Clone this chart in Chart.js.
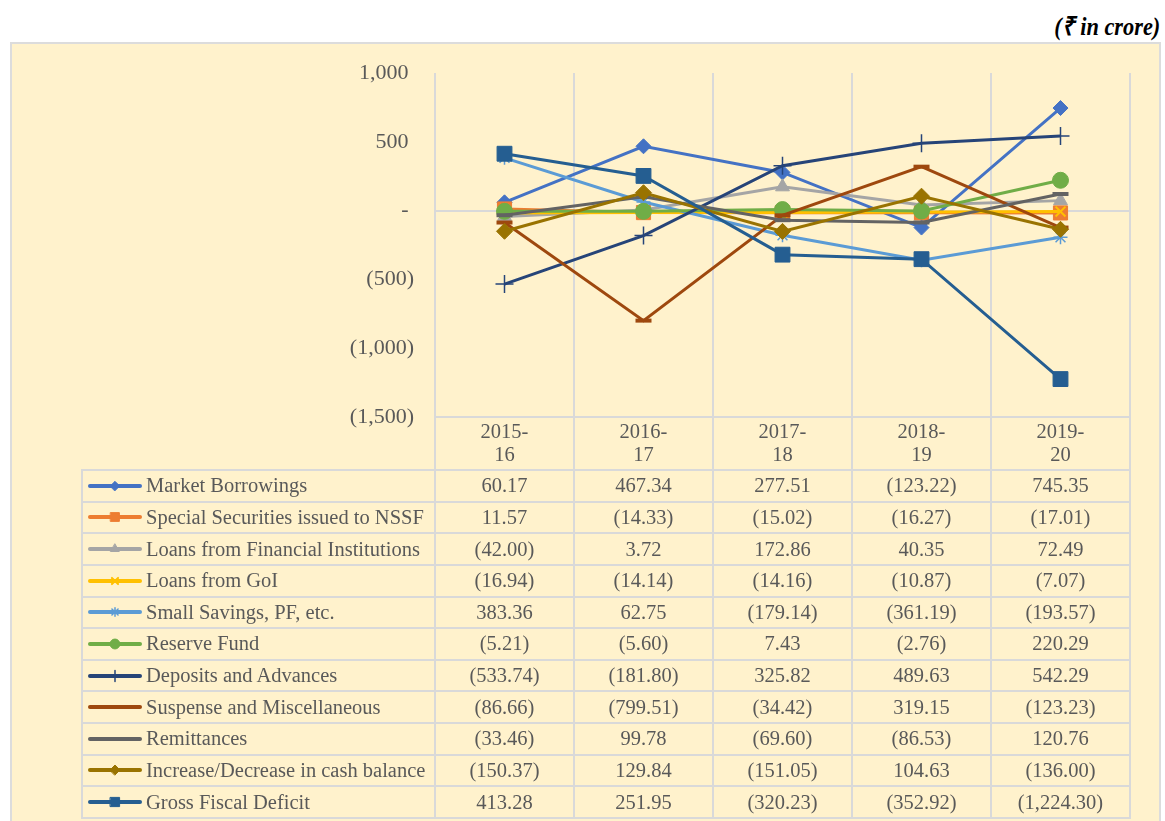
<!DOCTYPE html>
<html>
<head>
<meta charset="utf-8">
<script src="https://cdn.jsdelivr.net/npm/chart.js@4.4.1/dist/chart.umd.min.js"></script>
<style>
  body { margin: 0; width: 1165px; height: 821px; overflow: hidden; position: relative; background: #fff; font-family: "Liberation Serif", "Times New Roman", serif; }
  #unit { position: absolute; right: 5px; top: 7px; font-size: 26px; font-weight: bold; font-style: italic; color: #000; transform: scaleX(0.86); transform-origin: right center; }
  #box { position: absolute; left: 10px; top: 42px; width: 1147px; height: 800px; border: 2px solid #dcdcdc; background: #fff2cc; }
  #chart { position: absolute; left: 0; top: 0; z-index: 2; }
  #tbl { position: absolute; z-index: 1; display: grid; background: #d9d9d9; padding: 2px; gap: 2px; }
  #tbl div { background: #fff2cc; color: #595959; font-size: 20.5px; display: flex; align-items: center; justify-content: center; white-space: nowrap; }
  #tbl div.name { justify-content: flex-start; padding-left: 4px; }
  #tbl canvas { margin-right: 3px; }
</style>
</head>
<body>
<div id="box"></div>
<div id="unit">(₹ in crore)</div>
<canvas id="chart" width="1165" height="470"></canvas>
<div id="tbl"></div>
<script>
const years = [["2015-", "16"], ["2016-", "17"], ["2017-", "18"], ["2018-", "19"], ["2019-", "20"]];
const yTicks = [1000, 500, 0, -500, -1000, -1500];

const seriesNames = [
  "Market Borrowings",
  "Special Securities issued to NSSF",
  "Loans from Financial Institutions",
  "Loans from GoI",
  "Small Savings, PF, etc.",
  "Reserve Fund",
  "Deposits and Advances",
  "Suspense and Miscellaneous",
  "Remittances",
  "Increase/Decrease in cash balance",
  "Gross Fiscal Deficit",
];

const marketBorrowings = [60.17, 467.34, 277.51, -123.22, 745.35];
const specialSecurities = [11.57, -14.33, -15.02, -16.27, -17.01];
const loansFinancial = [-42.00, 3.72, 172.86, 40.35, 72.49];
const loansGoI = [-16.94, -14.14, -14.16, -10.87, -7.07];
const smallSavings = [383.36, 62.75, -179.14, -361.19, -193.57];
const reserveFund = [-5.21, -5.60, 7.43, -2.76, 220.29];
const depositsAdvances = [-533.74, -181.80, 325.82, 489.63, 542.29];
const suspenseMisc = [-86.66, -799.51, -34.42, 319.15, -123.23];
const remittances = [-33.46, 99.78, -69.60, -86.53, 120.76];
const cashBalance = [-150.37, 129.84, -151.05, 104.63, -136.00];
const grossFiscalDeficit = [413.28, 251.95, -320.23, -352.92, -1224.30];

const seriesValues = [marketBorrowings, specialSecurities, loansFinancial, loansGoI, smallSavings,
  reserveFund, depositsAdvances, suspenseMisc, remittances, cashBalance, grossFiscalDeficit];

const colors = ["#4472c4", "#ed7d31", "#a5a5a5", "#ffc000", "#5b9bd5", "#70ad47",
  "#264478", "#9e480e", "#636363", "#997300", "#255e91"];
const markers = ["rectRot", "rect", "triangle", "crossRot", "star", "circle",
  "cross", "line", "line", "rectRot", "rect"];
const markerSize = [7.5, 10, 8, 7, 7, 8, 9, 8, 8, 8, 10.5];
const markerBorder = [1, 1, 1, 2, 1.5, 1, 1.5, 4, 4, 1, 1];

function acct(v) {
  if (v === 0) return "- ";
  const s = Math.abs(v).toLocaleString("en-US", { minimumFractionDigits: 0 });
  return v < 0 ? "(" + s + ")" : s + " ";
}
function acct2(v) {
  const s = Math.abs(v).toLocaleString("en-US", { minimumFractionDigits: 2, maximumFractionDigits: 2 });
  return v < 0 ? "(" + s + ")" : s;
}

const datasets = seriesNames.map((name, i) => ({
  label: name,
  data: seriesValues[i],
  borderColor: colors[i],
  backgroundColor: colors[i],
  borderWidth: 3,
  pointStyle: markers[i],
  pointRadius: markerSize[i],
  pointBorderWidth: markerBorder[i],
  pointBorderColor: colors[i],
  pointBackgroundColor: colors[i],
  tension: 0,
  order: seriesNames.length - i,
}));

const gridColor = "#d9d9d9";
const txtColor = "#595959";

// vertical separators in the category label band, under the plot
const labelBandLines = {
  id: "labelBandLines",
  afterDraw(chart) {
    const xs = chart.scales.x;
    const ctx = chart.ctx;
    const w = (xs.right - xs.left) / years.length;
    ctx.save();
    ctx.strokeStyle = gridColor;
    ctx.lineWidth = 2;
    for (let i = 0; i <= years.length; i++) {
      const x = Math.round(xs.left + i * w);
      ctx.beginPath();
      ctx.moveTo(x, chart.chartArea.bottom);
      ctx.lineTo(x, chart.height);
      ctx.stroke();
    }
    ctx.restore();
  },
};

const ctx = document.getElementById("chart").getContext("2d");
const myChart = new Chart(ctx, {
  type: "line",
  data: { labels: years, datasets },
  options: {
    responsive: false,
    animation: false,
    devicePixelRatio: 1,
    layout: { padding: { top: 73, right: 35, left: 0, bottom: 0 } },
    plugins: { legend: { display: false }, tooltip: { enabled: false } },
    scales: {
      x: {
        offset: true,
        grid: { offset: true, color: gridColor, lineWidth: 2, drawTicks: false },
        border: { display: true, color: gridColor, width: 2 },
        ticks: {
          color: txtColor,
          font: { family: "'Liberation Serif', 'Times New Roman', serif", size: 20.5, lineHeight: 1.12 },
          padding: 4,
          maxRotation: 0,
        },
        afterFit(scale) { scale.height = 53; },
      },
      y: {
        min: -1500,
        max: 1000,
        afterBuildTicks(scale) { scale.ticks = yTicks.map((v) => ({ value: v })); },
        grid: {
          color: (c) => (c.tick && c.tick.value === 0 ? gridColor : "rgba(0,0,0,0)"),
          lineWidth: 2,
          drawTicks: false,
        },
        border: { display: false },
        ticks: {
          color: txtColor,
          font: { family: "'Liberation Serif', 'Times New Roman', serif", size: 22 },
          padding: 21,
          callback: (v) => acct(v),
        },
        afterFit(scale) { scale.width = 435; },
      },
    },
  },
  plugins: [labelBandLines],
});

// data table under the chart, aligned to the x scale
function buildTable() {
  const xs = myChart.scales.x;
  const colW = (xs.right - xs.left) / years.length;
  const tableLeft = 82;
  const top = 470;
  const bottom = 818;
  const rowH = (bottom - top) / seriesNames.length;
  const tbl = document.getElementById("tbl");
  tbl.style.left = (tableLeft - 1) + "px";
  tbl.style.top = (top - 1) + "px";
  tbl.style.gridTemplateColumns = (xs.left - tableLeft - 2) + "px repeat(" + years.length + ", " + (colW - 2) + "px)";
  tbl.style.gridAutoRows = (rowH - 2) + "px";

  seriesNames.forEach((name, i) => {
    const nameCell = document.createElement("div");
    nameCell.className = "name";
    const c = document.createElement("canvas");
    c.width = 56;
    c.height = 20;
    const g = c.getContext("2d");
    g.strokeStyle = colors[i];
    g.lineWidth = 4;
    g.lineCap = "round";
    g.beginPath();
    g.moveTo(3, 10);
    g.lineTo(53, 10);
    g.stroke();
    if (markers[i] !== "line" && Chart.helpers && Chart.helpers.drawPoint) {
      g.fillStyle = colors[i];
      g.strokeStyle = colors[i];
      g.lineWidth = markerBorder[i];
      Chart.helpers.drawPoint(g, { pointStyle: markers[i], radius: markerSize[i] * 0.62, rotation: 0, borderWidth: markerBorder[i] }, 28, 10);
    }
    nameCell.appendChild(c);
    nameCell.appendChild(document.createTextNode(name));
    tbl.appendChild(nameCell);
    seriesValues[i].forEach((v) => {
      const cell = document.createElement("div");
      cell.textContent = acct2(v);
      tbl.appendChild(cell);
    });
  });
}
buildTable();
</script>
</body>
</html>
